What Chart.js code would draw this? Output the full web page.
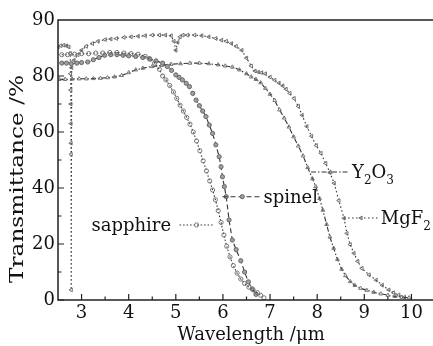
<!DOCTYPE html>
<html>
<head>
<meta charset="utf-8">
<script src="https://cdn.jsdelivr.net/npm/chart.js@4.4.1/dist/chart.umd.min.js"></script>
<style>
  html, body { margin: 0; padding: 0; background: #fff; overflow: hidden; }
  #wrap { width: 433px; height: 346px; overflow: hidden; }
  canvas { display: block; }
</style>
</head>
<body>
<div id="wrap"><canvas id="chart" width="440" height="346" style="width:440px;height:346px"></canvas></div>
<script>
// Transmittance spectra, values (wavelength in um, T in %)
const sapphireX = [2.58, 2.7, 2.85, 3.0, 3.15, 3.3, 3.45, 3.6, 3.75, 3.9, 4.05, 4.2, 4.35, 4.45, 4.55, 4.65, 4.72, 4.79, 4.87, 4.95,
  5.02, 5.09, 5.16, 5.23, 5.3, 5.37, 5.44, 5.51, 5.58, 5.65, 5.72, 5.78, 5.84, 5.9, 5.96, 6.02, 6.08, 6.15, 6.22, 6.3,
  6.38, 6.46, 6.55, 6.64, 6.73, 6.8, 6.87];
const sapphireY = [83.8, 83.8, 83.9, 84.0, 84.0, 84.1, 84.1, 84.2, 84.2, 84.1, 84.0, 83.9, 83.5, 83.0, 82.3, 81.2, 80.0, 78.6, 76.6, 74.3,
  72.0, 69.6, 67.5, 65.2, 62.8, 60.0, 56.8, 53.3, 49.7, 46.1, 42.5, 39.3, 35.8, 31.9, 27.7, 23.2, 19.2, 15.4, 12.3, 9.6,
  7.5, 5.9, 4.6, 3.6, 2.6, 1.7, 0.8];

const spinelX = [2.58, 2.68, 2.78, 2.9, 3.0, 3.13, 3.25, 3.37, 3.49, 3.62, 3.75, 3.88, 4.0, 4.15, 4.3, 4.44, 4.58, 4.72, 4.82, 4.91,
  5.0, 5.07, 5.14, 5.22, 5.29, 5.36, 5.43, 5.5, 5.57, 5.64, 5.71, 5.78, 5.85, 5.92, 5.96, 5.99, 6.03, 6.07, 6.13, 6.2,
  6.28, 6.38, 6.46, 6.54, 6.62, 6.7];
const spinelY = [82.3, 82.3, 82.2, 82.3, 82.4, 82.5, 82.9, 83.3, 83.7, 83.8, 83.8, 83.7, 83.6, 83.5, 83.3, 83.1, 82.7, 82.3, 81.7, 81.0,
  80.2, 79.5, 78.6, 77.4, 76.2, 73.8, 71.4, 69.4, 67.5, 65.5, 62.5, 59.5, 55.4, 51.2, 47.6, 44.0, 40.5, 36.9, 28.6, 21.4,
  18.0, 14.0, 10.0, 6.5, 4.0, 2.0];

const y2o3X = [2.53, 2.65, 2.8, 2.95, 3.1, 3.25, 3.4, 3.55, 3.7, 3.85, 4.0, 4.15, 4.3, 4.5, 4.7, 4.9, 5.1, 5.3, 5.5, 5.7,
  5.9, 6.05, 6.2, 6.35, 6.5, 6.6, 6.7, 6.8, 6.9, 7.0, 7.1, 7.2, 7.3, 7.4, 7.5, 7.6, 7.7, 7.8, 7.9, 7.97,
  8.05, 8.12, 8.2, 8.27, 8.35, 8.43, 8.52, 8.6, 8.7, 8.8, 8.92, 9.05, 9.2, 9.35, 9.5, 9.65, 9.8, 9.95];
const y2o3Y = [78.8, 78.8, 78.9, 79.0, 79.0, 79.1, 79.2, 79.4, 79.7, 80.1, 80.6, 81.1, 81.4, 81.7, 81.9, 82.1, 82.2, 82.3, 82.3, 82.2,
  82.0, 81.8, 81.6, 81.1, 80.4, 79.7, 78.8, 77.6, 75.6, 73.5, 71.3, 67.9, 65.0, 61.8, 58.3, 55.0, 51.5, 47.3, 43.3, 40.5,
  36.3, 32.1, 27.0, 22.5, 18.5, 14.5, 11.0, 8.7, 6.6, 5.2, 4.2, 3.5, 2.8, 2.2, 1.7, 1.3, 1.0, 0.8];

const mgf2X = [2.5, 2.56, 2.62, 2.68, 2.73, 2.76, 2.765, 2.77, 2.772, 2.774, 2.776, 2.778, 2.78, 2.79, 2.84, 2.92, 3.0, 3.1, 3.23, 3.35,
  3.5, 3.62, 3.74, 3.9, 4.05, 4.2, 4.35, 4.5, 4.65, 4.78, 4.9, 4.96, 5.0, 5.04, 5.09, 5.15, 5.25, 5.4, 5.55, 5.7,
  5.85, 5.97, 6.07, 6.18, 6.28, 6.4, 6.5, 6.6, 6.68, 6.75, 6.82, 6.9, 7.0, 7.1, 7.19, 7.27, 7.34, 7.42, 7.51, 7.6,
  7.68, 7.78, 7.88, 7.98, 8.08, 8.18, 8.27, 8.36, 8.46, 8.57, 8.63, 8.7, 8.78, 8.86, 8.95, 9.1, 9.25, 9.38, 9.52, 9.62,
  9.73, 9.85];
const mgf2Y = [85.2, 85.4, 85.5, 85.4, 85.2, 84.0, 80.4, 75.0, 70.0, 63.0, 56.0, 52.0, 3.6, 81.5, 82.8, 83.8, 84.6, 85.3, 85.8, 86.2,
  86.5, 86.6, 86.7, 86.9, 87.0, 87.1, 87.2, 87.3, 87.3, 87.3, 87.2, 86.2, 84.6, 86.0, 87.0, 87.3, 87.3, 87.3, 87.2, 87.0,
  86.7, 86.4, 86.2, 85.8, 85.3, 84.6, 83.2, 81.8, 80.9, 80.7, 80.6, 80.4, 79.6, 78.5, 77.5, 76.5, 75.3, 73.8, 72.0, 69.2,
  66.0, 62.0, 58.5, 55.2, 52.4, 48.8, 45.5, 41.7, 35.5, 29.2, 23.8, 19.8, 16.7, 13.8, 11.3, 9.0, 7.1, 5.3, 3.6, 2.6,
  1.8, 1.0];

const xTicks = [3, 4, 5, 6, 7, 8, 9, 10];
const xMinor = [3.5, 4.5, 5.5, 6.5, 7.5, 8.5, 9.5];
const yTicks = [0, 20, 40, 60, 80, 90];
const yMinor = [10, 30, 50, 70];

const FONT = 'DejaVu Serif';

// y axis is broken: 0-80 linear, 80-90 drawn twice as tall
const BREAK_AT = 80;
class BrokenScale extends Chart.LinearScale {
  getPixelForValue(value) {
    if (value === null || value === undefined) return NaN;
    const t = value <= BREAK_AT ? value : BREAK_AT + 2 * (value - BREAK_AT);
    return this.getPixelForDecimal(t / 100);
  }
  getValueForPixel(pixel) {
    const t = this.getDecimalForPixel(pixel) * 100;
    return t <= BREAK_AT ? t : BREAK_AT + (t - BREAK_AT) / 2;
  }
}
BrokenScale.id = 'broken';
BrokenScale.defaults = Chart.LinearScale.defaults;
Chart.register(BrokenScale);

function pts(xs, ys) {
  return xs.map((x, i) => ({ x: x, y: ys[i] }));
}

const series = [
  { label: 'sapphire', data: pts(sapphireX, sapphireY), style: 'circle', rot: 0, r: 2.1,
    fill: 'rgba(255,255,255,0)', edge: '#777', dash: [1.5, 2] },
  { label: 'spinel', data: pts(spinelX, spinelY), style: 'circle', rot: 0, r: 2.1,
    fill: '#a0a0a0', edge: '#666', dash: [5, 3] },
  { label: 'Y2O3', data: pts(y2o3X, y2o3Y), style: 'triangle', rot: 0, r: 2.2,
    fill: 'rgba(255,255,255,0)', edge: '#777', dash: [5, 2, 1.5, 2] },
  { label: 'MgF2', data: pts(mgf2X, mgf2Y), style: 'triangle', rot: -90, r: 2.2,
    fill: 'rgba(255,255,255,0)', edge: '#707070', dash: [1.5, 2.5] }
];

// name tags with leader lines, placed in data coordinates
const tags = [
  { s: 0, x0: 5.08, x1: 5.82, y: 26.8, mark: 5.44, tx: 4.9, align: 'right', parts: [['sapphire', 0]] },
  { s: 1, x0: 5.99, x1: 6.81, y: 36.9, mark: 6.41, tx: 6.86, align: 'left', parts: [['spinel', 0]] },
  { s: 2, x0: 7.87, x1: 8.68, y: 45.7, mark: 8.28, tx: 8.74, align: 'left', parts: [['Y', 0], ['2', 1], ['O', 0], ['3', 1]] },
  { s: 3, x0: 8.57, x1: 9.31, y: 29.3, mark: 8.93, tx: 9.35, align: 'left', parts: [['MgF', 0], ['2', 1]] }
];

const framePlugin = {
  id: 'frame',
  afterDraw(chart) {
    const ctx = chart.ctx;
    const a = chart.chartArea;
    const xs = chart.scales.x, ys = chart.scales.y;
    ctx.save();
    ctx.strokeStyle = '#222';
    ctx.lineWidth = 1.5;
    ctx.setLineDash([]);
    ctx.strokeRect(a.left, a.top, a.right - a.left, a.bottom - a.top);

    // inward tick marks
    ctx.lineWidth = 1.2;
    ctx.beginPath();
    xTicks.forEach(v => { const p = xs.getPixelForValue(v); ctx.moveTo(p, a.bottom); ctx.lineTo(p, a.bottom - 6); });
    xMinor.forEach(v => { const p = xs.getPixelForValue(v); ctx.moveTo(p, a.bottom); ctx.lineTo(p, a.bottom - 3.5); });
    yTicks.slice(0, 5).forEach(v => { const p = ys.getPixelForValue(v); ctx.moveTo(a.left, p); ctx.lineTo(a.left + 6, p); });
    yMinor.forEach(v => { const p = ys.getPixelForValue(v); ctx.moveTo(a.left, p); ctx.lineTo(a.left + 3.5, p); });
    ctx.stroke();

    // axis titles
    ctx.fillStyle = '#111';
    ctx.font = '18px "' + FONT + '"';
    ctx.textAlign = 'center';
    ctx.textBaseline = 'alphabetic';
    ctx.fillText('Wavelength /\u03bcm', 251, 340);
    ctx.save();
    ctx.translate(23, 179);
    ctx.rotate(-Math.PI / 2);
    const yTitle = 'Transmittance /%';
    ctx.scale(208 / ctx.measureText(yTitle).width, 1);
    ctx.fillText(yTitle, 0, 0);
    ctx.restore();

    // name tags
    tags.forEach(t => {
      const s = series[t.s];
      const py = ys.getPixelForValue(t.y);
      ctx.strokeStyle = '#333';
      ctx.lineWidth = 1.1;
      ctx.setLineDash(s.dash);
      ctx.beginPath();
      ctx.moveTo(xs.getPixelForValue(t.x0), py);
      ctx.lineTo(xs.getPixelForValue(t.x1), py);
      ctx.stroke();
      ctx.setLineDash([]);
      ctx.fillStyle = s.fill;
      ctx.strokeStyle = s.edge;
      ctx.lineWidth = 1;
      Chart.helpers.drawPoint(ctx, { pointStyle: s.style, rotation: s.rot, radius: s.r, borderWidth: 1 },
        xs.getPixelForValue(t.mark), py);

      ctx.fillStyle = '#111';
      ctx.textAlign = 'left';
      ctx.textBaseline = 'alphabetic';
      let w = 0;
      t.parts.forEach(p => {
        ctx.font = (p[1] ? '12px' : '18px') + ' "' + FONT + '"';
        w += ctx.measureText(p[0]).width;
      });
      let px = xs.getPixelForValue(t.tx);
      if (t.align === 'right') px -= w;
      t.parts.forEach(p => {
        ctx.font = (p[1] ? '12px' : '18px') + ' "' + FONT + '"';
        ctx.fillText(p[0], px, py + (p[1] ? 12 : 6));
        px += ctx.measureText(p[0]).width;
      });
    });
    ctx.restore();
  }
};

const chart = new Chart(document.getElementById('chart'), {
  type: 'line',
  data: {
    datasets: series.map(s => ({
      label: s.label,
      data: s.data,
      borderColor: '#333',
      borderWidth: 1.1,
      borderDash: s.dash,
      pointStyle: s.style,
      pointRotation: s.rot,
      pointRadius: s.r,
      pointBorderWidth: 1,
      pointBorderColor: s.edge,
      pointBackgroundColor: s.fill,
      fill: false,
      tension: 0
    }))
  },
  options: {
    responsive: false,
    animation: false,
    layout: { padding: { top: 20, right: 4, left: 0, bottom: 0 } },
    plugins: { legend: { display: false }, tooltip: { enabled: false } },
    scales: {
      x: {
        type: 'linear',
        min: 2.5,
        max: 10.5,
        afterBuildTicks: s => { s.ticks = xTicks.map(v => ({ value: v })); },
        afterFit: s => { s.height = 46; },
        grid: { display: false, drawTicks: false },
        border: { display: false },
        ticks: { font: { family: FONT, size: 18 }, color: '#111', padding: 3, maxRotation: 0,
          callback: v => String(v) }
      },
      y: {
        type: 'broken',
        min: 0,
        max: 90,
        afterBuildTicks: s => { s.ticks = yTicks.map(v => ({ value: v })); },
        afterFit: s => { s.width = 58; },
        grid: { display: false, drawTicks: false },
        border: { display: false },
        ticks: { font: { family: FONT, size: 18 }, color: '#111', padding: 3,
          callback: v => String(v) }
      }
    }
  },
  plugins: [framePlugin]
});
</script>
</body>
</html>
